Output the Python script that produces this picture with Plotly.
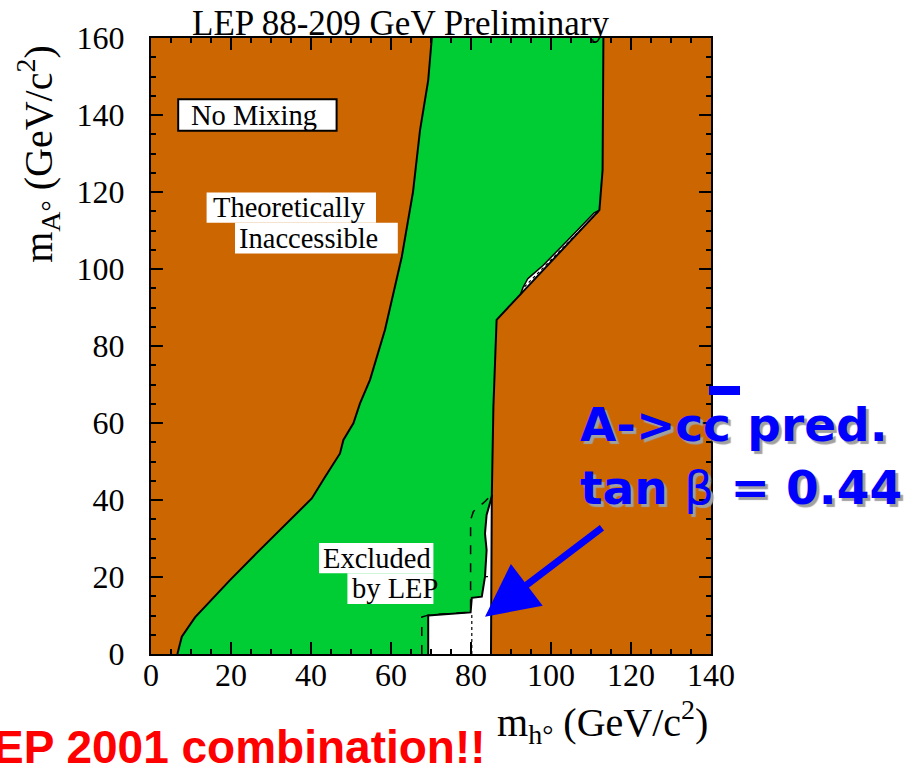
import plotly.graph_objects as go

# --- contour data (m_h, m_A in GeV/c^2) ---
# theoretical limit on the low-m_h side
left_mh = [6.6, 7.7, 11.0, 13.9, 19.75, 26.4, 32.25, 36.4, 40.2, 43.5, 47.25, 48.1,
           50.6, 52.25, 54.75, 58.5, 62.7, 65.5, 67.25, 69.3, 70.2]
left_mA = [0, 4.5, 9.5, 12.7, 19.2, 26.2, 32.2, 36.5, 40.4, 46.0, 52.1, 55.6,
           59.9, 65.1, 71.2, 84.2, 103.2, 120.0, 136.0, 149.0, 160.0]

# theoretical limit on the high-m_h side
right_mh = [113.1, 112.9, 112.1, 86.4, 85.6, 85.2, 85.0]
right_mA = [160.0, 125.7, 115.3, 86.8, 64.2, 40.9, 0.0]

# edge of the excluded region along the upper sliver
sliver_mh = [112.1, 110.8, 104.0, 98.0, 95.0, 94.2, 93.0, 92.3]
sliver_mA = [115.3, 114.6, 107.3, 100.9, 98.2, 97.5, 95.2, 93.2]

# observed exclusion boundary near m_h ~ 80
excl_mh = [85.3, 83.9, 83.5, 83.9, 83.5, 82.7, 80.2, 79.9, 69.3, 69.3]
excl_mA = [41.3, 36.1, 31.3, 27.0, 20.1, 14.9, 14.6, 10.8, 10.0, 0.0]

# expected exclusion boundary
exp_mh = [67.7, 67.7, 69.3, 79.9, 79.9, 80.6, 83.5, 85.3]
exp_mA = [0.0, 9.6, 10.1, 10.9, 34.8, 37.0, 39.6, 41.6]
exp_sliver_mh = [111.8, 93.2]
exp_sliver_mA = [114.8, 95.2]

# dotted guide lines
dot_mh = [80.2, 80.2]
dot_mA = [0.0, 10.8]
dot2_mh = [83.5, 85.2]
dot2_mA = [20.1, 20.1]

# A -> cc prediction point for tan(beta) = 0.44, and the arrow tail
pred_mh, pred_mA = 83.5, 9.7
tail_mh, tail_mA = 113.1, 33.1

x_ticks = [0, 20, 40, 60, 80, 100, 120, 140]
y_ticks = [0, 20, 40, 60, 80, 100, 120, 140, 160]

BROWN = "#CC6600"
GREEN = "#00CC33"
SERIF = "Liberation Serif, Times New Roman, serif"

fig = go.Figure()

# filled regions
fig.add_trace(go.Scatter(
    x=left_mh + [0, 0], y=left_mA + [160, 0],
    fill="toself", fillcolor=BROWN, mode="none", hoverinfo="skip"))
fig.add_trace(go.Scatter(
    x=right_mh + [140, 140], y=right_mA + [0, 160],
    fill="toself", fillcolor=BROWN, mode="none", hoverinfo="skip"))
green_x = left_mh + right_mh[:3] + sliver_mh[1:] + right_mh[3:5] + excl_mh
green_y = left_mA + right_mA[:3] + sliver_mA[1:] + right_mA[3:5] + excl_mA
fig.add_trace(go.Scatter(
    x=green_x, y=green_y,
    fill="toself", fillcolor=GREEN, mode="none", hoverinfo="skip"))

# boundary lines
solid = dict(color="black", width=2)
fig.add_trace(go.Scatter(x=left_mh, y=left_mA, mode="lines", line=solid))
fig.add_trace(go.Scatter(x=right_mh, y=right_mA, mode="lines", line=solid))
fig.add_trace(go.Scatter(x=sliver_mh, y=sliver_mA, mode="lines",
                         line=dict(color="black", width=1.5)))
fig.add_trace(go.Scatter(x=excl_mh, y=excl_mA, mode="lines", line=solid))
fig.add_trace(go.Scatter(x=exp_mh, y=exp_mA, mode="lines",
                         line=dict(color="black", width=1.5, dash="dash")))
fig.add_trace(go.Scatter(x=exp_sliver_mh, y=exp_sliver_mA, mode="lines",
                         line=dict(color="black", width=1.2, dash="dot")))
fig.add_trace(go.Scatter(x=dot_mh, y=dot_mA, mode="lines",
                         line=dict(color="black", width=1.2, dash="dot")))
fig.add_trace(go.Scatter(x=dot2_mh, y=dot2_mA, mode="lines",
                         line=dict(color="black", width=1.2, dash="dot")))

# label boxes
boxes = [
    (6.8, 135.9, 46.4, 144.1, "black"),   # No Mixing
    (13.9, 112.0, 56.25, 119.9, None),    # Theoretically
    (21.0, 104.0, 61.7, 112.0, None),     # Inaccessible
    (42.0, 21.0, 70.6, 28.8, None),       # Excluded
    (49.1, 13.0, 70.6, 21.0, None),       # by LEP
]
for x0, y0, x1, y1, border in boxes:
    fig.add_shape(type="rect", xref="x", yref="y", x0=x0, y0=y0, x1=x1, y1=y1,
                  fillcolor="white", layer="above",
                  line=dict(color=border or "white", width=2 if border else 0))

labels = [
    (9.6, 140.0, "No Mixing"),
    (15.0, 116.0, "Theoretically"),
    (21.5, 108.0, "Inaccessible"),
    (42.6, 24.9, "Excluded"),
    (49.8, 16.9, "by LEP"),
]
for lx, ly, txt in labels:
    fig.add_annotation(x=lx, y=ly, xref="x", yref="y", text=txt, showarrow=False,
                       xanchor="left", yanchor="middle",
                       font=dict(family=SERIF, size=28.5, color="black"))

# arrow to the predicted point
fig.add_annotation(x=pred_mh, y=pred_mA, xref="x", yref="y",
                   ax=tail_mh, ay=tail_mA, axref="x", ayref="y",
                   text="", showarrow=True, arrowhead=2, arrowsize=1.5,
                   arrowwidth=7, arrowcolor="#0000FF", standoff=0)

# prediction text
blue_font = dict(family="DejaVu Sans, Verdana, sans-serif", size=47, color="#0000FF",
                 shadow="3px 3px 1px #A0A0A0")
fig.add_annotation(x=(578 - 151) / 560, y=0.372, xref="paper", yref="paper",
                   text="<b>A->cc pred.</b>", showarrow=False,
                   xanchor="left", yanchor="middle", font=blue_font)
fig.add_annotation(x=(578 - 151) / 560, y=0.270, xref="paper", yref="paper",
                   text="<b>tan </b><span style=\"font-weight:normal\">β</span><b> = 0.44</b>",
                   showarrow=False, xanchor="left", yanchor="middle", font=blue_font)
# bar over the second c
fig.add_shape(type="rect", xref="paper", yref="paper",
              x0=(709 - 151) / 560, x1=(740 - 151) / 560,
              y0=(654 - 395) / 616, y1=(654 - 386) / 616,
              fillcolor="#0000FF", line=dict(width=0), layer="above")

# title and axis titles
fig.add_annotation(x=0.4464, y=1.0, xref="paper", yref="paper",
                   text="LEP 88-209 GeV Preliminary", showarrow=False,
                   xanchor="center", yanchor="bottom", yshift=-7,
                   font=dict(family=SERIF, size=35, color="black"))
fig.add_annotation(x=0.807, y=-0.110, xref="paper", yref="paper",
                   text="m<sub>h°</sub> (GeV/c<sup>2</sup>)", showarrow=False,
                   xanchor="center", yanchor="middle",
                   font=dict(family=SERIF, size=40, color="black"))
fig.add_annotation(x=-0.202, y=0.8117, xref="paper", yref="paper",
                   text="m<sub>A°</sub> (GeV/c<sup>2</sup>)", showarrow=False,
                   textangle=-90, xanchor="center", yanchor="middle",
                   font=dict(family=SERIF, size=40, color="black"))

# red banner text (runs off the left edge of the page)
fig.add_annotation(x=(488 - 151) / 560, y=(654 - 747) / 616, xref="paper", yref="paper",
                   text="<b>LEP 2001 combination!!</b>", showarrow=False,
                   xanchor="right", yanchor="middle",
                   font=dict(family="Liberation Sans, Arial, sans-serif",
                             size=46, color="#FF0000"))

axis_common = dict(
    showgrid=False, zeroline=False, showline=True, linecolor="black", linewidth=2,
    mirror="allticks", ticks="inside", ticklen=12, tickwidth=2, tickcolor="black",
    tickfont=dict(family=SERIF, size=32, color="black"),
    minor=dict(ticks="inside", ticklen=5, tickwidth=1.5, tickcolor="black", dtick=5),
)
fig.update_xaxes(range=[0, 140], tickvals=x_ticks, ticklabelstandoff=-8, **axis_common)
fig.update_yaxes(range=[0, 160], tickvals=y_ticks, ticklabelstandoff=18, **axis_common)

fig.update_layout(
    width=918, height=771, showlegend=False,
    margin=dict(l=151, r=207, t=38, b=117),
    paper_bgcolor="white", plot_bgcolor="white",
)

fig.write_html("out.html")
